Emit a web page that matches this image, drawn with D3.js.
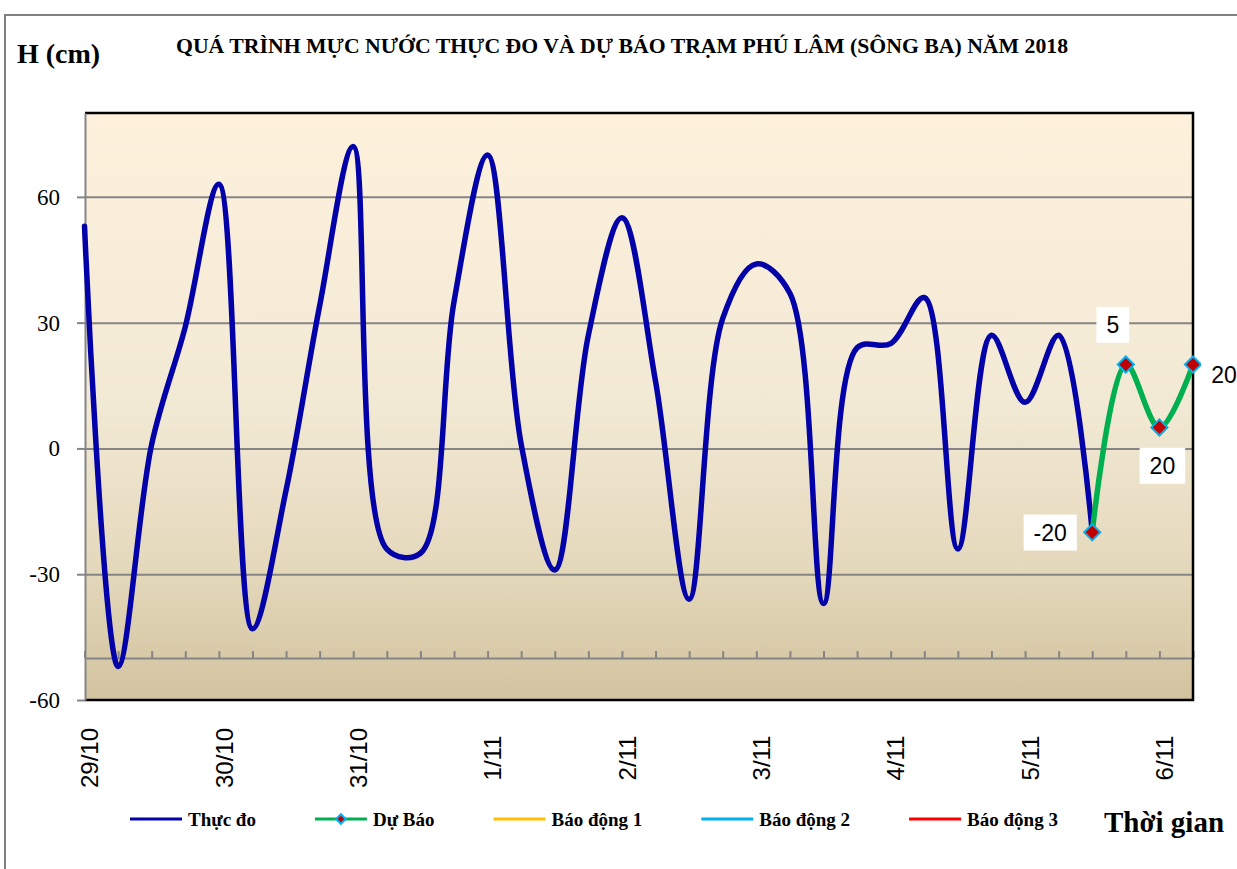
<!DOCTYPE html>
<html>
<head>
<meta charset="utf-8">
<script src="https://cdn.jsdelivr.net/npm/d3@7"></script>
<style>
  body { margin: 0; background: #fff; }
</style>
</head>
<body>
<div id="chart"></div>
<script>
// time axis: 6-hourly observations
const days = ['29/10', '30/10', '31/10', '1/11', '2/11', '3/11', '4/11', '5/11', '6/11'];
const hours = ['1h', '7h', '13h', '19h'];
const times = d3.cross(days, hours).map(([d, h]) => `${h} ${d}`).slice(0, 34);

// water level (cm)
const observed = [53, -52, 1, 29, 63, -43, -10, 34, 72, -24, -25, 35, 70, 1, -29, 27, 55, 16,
  -36, 31, 44, 37, -37, 24, 25, 36, -24, 27, 11, 27, -20];
const forecast = [-20, 20, 5, 20];
const forecastLabels = ['-20', '5', '20', '20'];
const forecastLabelPlace = ['left', 'above', 'below', 'right'];

const yTicks = [-60, -30, 0, 30, 60];
const legendNames = ['Thực đo', 'Dự Báo', 'Báo động 1', 'Báo động 2', 'Báo động 3'];
const legendColors = ['#0202a8', '#00b050', '#ffc000', '#00b0f0', '#ff0000'];

const width = 1237;
const height = 869;
const plot = { left: 85, top: 113, right: 1193, bottom: 700 };

const serif = '"Liberation Serif", "Times New Roman", serif';
const sans = '"Liberation Sans", Arial, sans-serif';

const svg = d3.select('#chart')
  .append('svg')
  .attr('width', width)
  .attr('height', height);

// outer frame
svg.append('path')
  .attr('d', `M5,${height}V15H${width}`)
  .attr('fill', 'none')
  .attr('stroke', '#808080')
  .attr('stroke-width', 2);

const grad = svg.append('defs')
  .append('linearGradient')
  .attr('id', 'bg')
  .attr('x1', 0).attr('y1', 0).attr('x2', 0).attr('y2', 1);
grad.append('stop').attr('offset', '0%').attr('stop-color', '#fdf1dc');
grad.append('stop').attr('offset', '50%').attr('stop-color', '#f2e9d4');
grad.append('stop').attr('offset', '78%').attr('stop-color', '#e4d8bb');
grad.append('stop').attr('offset', '100%').attr('stop-color', '#d2c39f');

const x = d3.scalePoint().domain(times).range([plot.left - 0.5, plot.right]);
const y = d3.scaleLinear().domain([-60, 80]).range([plot.bottom, plot.top]);

svg.append('rect')
  .attr('x', plot.left)
  .attr('y', plot.top)
  .attr('width', plot.right - plot.left)
  .attr('height', plot.bottom - plot.top)
  .attr('fill', 'url(#bg)');

// gridlines
svg.append('g')
  .attr('transform', `translate(${plot.left},0)`)
  .call(d3.axisLeft(y).tickValues(yTicks.slice(1)).tickSize(-(plot.right - plot.left)).tickFormat(''))
  .call((g) => g.select('.domain').remove())
  .call((g) => g.selectAll('line').attr('stroke', '#858585').attr('stroke-width', 2));

// category axis crossing at -50, ticks pointing up
svg.append('g')
  .attr('transform', `translate(0,${y(-50)})`)
  .call(d3.axisTop(x).tickSize(7).tickSizeOuter(0).tickFormat(''))
  .call((g) => g.selectAll('line, path').attr('stroke', '#858585').attr('stroke-width', 2));

// plot border
svg.append('path')
  .attr('d', `M${plot.left},${plot.top}H${plot.right}V${plot.bottom}H${plot.left}`)
  .attr('fill', 'none')
  .attr('stroke', '#000')
  .attr('stroke-width', 2.5);

// value axis
svg.append('g')
  .attr('transform', `translate(${plot.left},0)`)
  .call(d3.axisLeft(y).tickValues(yTicks).tickSize(8).tickPadding(17).tickSizeOuter(0)
    .tickFormat((d) => String(d)))
  .call((g) => g.selectAll('line, path').attr('stroke', '#858585').attr('stroke-width', 2))
  .call((g) => g.selectAll('text')
    .attr('font-family', serif)
    .attr('font-size', 23)
    .attr('fill', '#000'));

// day labels
svg.append('g')
  .attr('transform', `translate(0,758)`)
  .call(d3.axisBottom(x).tickSize(0).tickFormat((d) => (d.startsWith('1h ') ? d.split(' ')[1] : '')))
  .call((g) => g.select('.domain').remove())
  .call((g) => g.selectAll('text')
    .attr('transform', 'rotate(-90)')
    .attr('x', 0)
    .attr('y', 0)
    .attr('dy', '0.55em')
    .attr('text-anchor', 'middle')
    .attr('font-family', sans)
    .attr('font-size', 24)
    .attr('fill', '#000'));

const line = d3.line()
  .x((d) => x(d[0]))
  .y((d) => y(d[1]))
  .curve(d3.curveCatmullRom.alpha(0.5));

const obsData = observed.map((v, i) => [times[i], v]);
const fcData = forecast.map((v, i) => [times[observed.length - 1 + i], v]);

svg.append('path')
  .datum(obsData)
  .attr('fill', 'none')
  .attr('stroke', legendColors[0])
  .attr('stroke-width', 5.5)
  .attr('stroke-linejoin', 'round')
  .attr('stroke-linecap', 'round')
  .attr('d', line);

svg.append('path')
  .datum(fcData)
  .attr('fill', 'none')
  .attr('stroke', legendColors[1])
  .attr('stroke-width', 5.5)
  .attr('stroke-linejoin', 'round')
  .attr('stroke-linecap', 'round')
  .attr('d', line);

const diamond = (size) => d3.symbol(d3.symbolSquare, size)();

svg.append('g')
  .selectAll('path')
  .data(fcData)
  .join('path')
  .attr('d', diamond(130))
  .attr('transform', (d) => `translate(${x(d[0])},${y(d[1])}) rotate(45)`)
  .attr('fill', '#c00000')
  .attr('stroke', '#00b0f0')
  .attr('stroke-width', 2);

// data labels
const labelOffset = {
  left: [-42, 0],
  above: [-13, -40],
  below: [3, 38],
  right: [31, 10],
};

const labels = svg.append('g')
  .selectAll('g')
  .data(fcData)
  .join('g')
  .attr('transform', (d, i) => {
    const [dx, dy] = labelOffset[forecastLabelPlace[i]];
    return `translate(${x(d[0]) + dx},${y(d[1]) + dy})`;
  });

labels.append('rect').attr('fill', '#fff');
labels.append('text')
  .attr('text-anchor', 'middle')
  .attr('dy', '0.36em')
  .attr('font-family', sans)
  .attr('font-size', 23)
  .attr('fill', '#000')
  .text((d, i) => forecastLabels[i]);
labels.each(function () {
  const g = d3.select(this);
  const b = g.select('text').node().getBBox();
  g.select('rect')
    .attr('x', b.x - 10)
    .attr('y', b.y - 5)
    .attr('width', b.width + 20)
    .attr('height', b.height + 10);
});

// titles
svg.append('text')
  .attr('x', 17)
  .attr('y', 63)
  .attr('font-family', serif)
  .attr('font-weight', 'bold')
  .attr('font-size', 28)
  .text('H (cm)');

svg.append('text')
  .attr('x', 176)
  .attr('y', 53)
  .attr('font-family', serif)
  .attr('font-weight', 'bold')
  .attr('font-size', 22)
  .attr('textLength', 892)
  .attr('lengthAdjust', 'spacingAndGlyphs')
  .text('QUÁ TRÌNH MỰC NƯỚC THỰC ĐO VÀ DỰ BÁO TRẠM PHÚ LÂM (SÔNG BA) NĂM 2018');

svg.append('text')
  .attr('x', 1104)
  .attr('y', 832)
  .attr('font-family', serif)
  .attr('font-weight', 'bold')
  .attr('font-size', 29)
  .text('Thời gian');

// legend
const legend = svg.append('g')
  .attr('font-family', serif)
  .attr('font-weight', 'bold')
  .attr('font-size', 19);

let lx = 130;
legendNames.forEach((name, i) => {
  const item = legend.append('g').attr('transform', `translate(${lx},819)`);
  item.append('line')
    .attr('x1', 0)
    .attr('x2', 52)
    .attr('stroke', legendColors[i])
    .attr('stroke-width', 3);
  if (i === 1) {
    item.append('path')
      .attr('d', diamond(45))
      .attr('transform', 'translate(26,0) rotate(45)')
      .attr('fill', '#c00000')
      .attr('stroke', '#00b0f0')
      .attr('stroke-width', 2);
  }
  const t = item.append('text')
    .attr('x', 58)
    .attr('y', 7)
    .text(name);
  lx += 58 + t.node().getComputedTextLength() + 59;
});
</script>
</body>
</html>
